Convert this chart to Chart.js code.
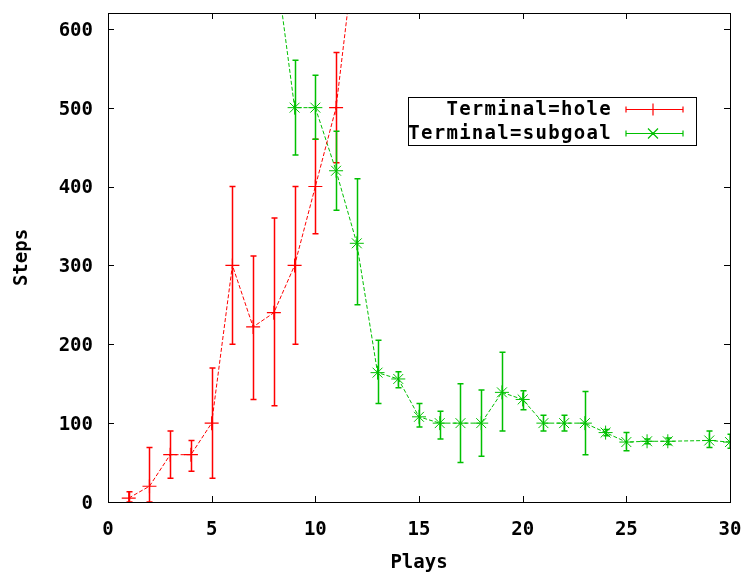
<!DOCTYPE html>
<html>
<head>
<meta charset="utf-8">
<script src="https://cdn.jsdelivr.net/npm/chart.js@4"></script>
<style>
html, body { margin: 0; padding: 0; background: #fff; }
</style>
</head>
<body>
<canvas id="chart" width="751" height="576"></canvas>
<script>
// Terminal=hole
const holePlays = [1, 2, 3, 4, 5, 6, 7, 8, 9, 10, 11, 12];
const holeSteps = [5, 20, 60, 60, 100, 300, 222, 240, 300, 400, 500, 720];
const holeLow   = [0, 0, 30, 39, 30, 200, 130, 122, 200, 340, 430, null];
const holeHigh  = [13, 69, 90, 78, 170, 400, 312, 360, 400, 460, 570, null];

// Terminal=subgoal
const subPlays = [8, 9, 10, 11, 12, 13, 14, 15, 16, 17, 18, 19, 20, 21, 22, 23, 24, 25, 26, 27, 29, 30];
const subSteps = [700, 500, 500, 420, 328, 164, 156, 108, 100, 100, 100, 139, 130, 100, 100, 100, 88, 76, 77, 77, 78, 76];
const subLow   = [null, 440, 460, 370, 250, 125, 145, 95, 80, 50, 58, 90, 117, 90, 90, 60, 84, 65, 74, 73, 69, 68];
const subHigh  = [null, 560, 541, 470, 410, 205, 165, 125, 115, 150, 142, 190, 141, 110, 110, 140, 92, 88, 80, 81, 90, 86];

const xTicks = [0, 5, 10, 15, 20, 25, 30];
const yTicks = [0, 100, 200, 300, 400, 500, 600];

const FONT = { family: "'DejaVu Sans Mono', monospace", size: 19, weight: 'bold' };
const RED = '#ff0000';
const GREEN = '#00c000';

function points(xs, ys, lo, hi) {
    return xs.map((x, i) => ({ x: x, y: ys[i], lo: lo[i], hi: hi[i] }));
}

const errorBars = {
    id: 'errorBars',
    afterDatasetsDraw(chart) {
        const ctx = chart.ctx, xs = chart.scales.x, ys = chart.scales.y, a = chart.chartArea;
        ctx.save();
        ctx.beginPath();
        ctx.rect(a.left, a.top, a.right - a.left, a.bottom - a.top);
        ctx.clip();
        chart.data.datasets.forEach(ds => {
            ctx.strokeStyle = ds.borderColor;
            ctx.lineWidth = 1.5;
            ds.data.forEach(p => {
                if (p.lo == null) return;
                const x = Math.round(xs.getPixelForValue(p.x)) + 0.5;
                const y1 = ys.getPixelForValue(p.lo), y2 = ys.getPixelForValue(p.hi);
                ctx.beginPath();
                ctx.moveTo(x, y1); ctx.lineTo(x, y2);
                ctx.moveTo(x - 3, y1); ctx.lineTo(x + 3, y1);
                ctx.moveTo(x - 3, y2); ctx.lineTo(x + 3, y2);
                ctx.stroke();
            });
        });
        ctx.restore();
    }
};

const frame = {
    id: 'frame',
    afterDraw(chart) {
        const ctx = chart.ctx, a = chart.chartArea, xs = chart.scales.x, ys = chart.scales.y;
        ctx.save();
        ctx.strokeStyle = '#000';
        ctx.lineWidth = 1;
        ctx.strokeRect(Math.round(a.left) + 0.5, Math.round(a.top) + 0.5,
            Math.round(a.right - a.left), Math.round(a.bottom - a.top));
        ctx.beginPath();
        xs.ticks.forEach(t => {
            const x = Math.round(xs.getPixelForValue(t.value)) + 0.5;
            ctx.moveTo(x, a.bottom); ctx.lineTo(x, a.bottom - 6);
            ctx.moveTo(x, a.top); ctx.lineTo(x, a.top + 6);
        });
        ys.ticks.forEach(t => {
            const y = Math.round(ys.getPixelForValue(t.value)) + 0.5;
            ctx.moveTo(a.left, y); ctx.lineTo(a.left + 6, y);
            ctx.moveTo(a.right, y); ctx.lineTo(a.right - 6, y);
        });
        ctx.stroke();

        // legend
        const bx = 408, by = 97, bw = 288, bh = 48;
        ctx.strokeRect(bx + 0.5, by + 0.5, bw, bh);
        ctx.font = `bold ${FONT.size}px ${FONT.family}`;
        ctx.letterSpacing = '1.3px';
        ctx.textAlign = 'right';
        ctx.textBaseline = 'middle';
        chart.data.datasets.forEach((ds, i) => {
            const y = Math.round(by + 12 + i * 24) + 0.5;
            ctx.fillStyle = '#000';
            ctx.fillText(ds.label, 612, y + 1);
            ctx.strokeStyle = ds.borderColor;
            ctx.lineWidth = 1.2;
            ctx.beginPath();
            ctx.moveTo(626, y); ctx.lineTo(683, y);
            ctx.moveTo(626, y - 3); ctx.lineTo(626, y + 3);
            ctx.moveTo(683, y - 3); ctx.lineTo(683, y + 3);
            if (ds.pointStyle === 'cross') {
                ctx.moveTo(653, y - 6); ctx.lineTo(653, y + 6);
            } else {
                ctx.moveTo(648, y - 5); ctx.lineTo(658, y + 5);
                ctx.moveTo(648, y + 5); ctx.lineTo(658, y - 5);
            }
            ctx.stroke();
        });
        ctx.restore();
    }
};

new Chart(document.getElementById('chart').getContext('2d'), {
    type: 'line',
    data: {
        datasets: [{
            label: 'Terminal=hole',
            data: points(holePlays, holeSteps, holeLow, holeHigh),
            borderColor: RED,
            borderWidth: 1,
            borderDash: [4, 2],
            pointStyle: 'cross',
            pointRadius: 7,
            pointBorderWidth: 1.2,
            pointBorderColor: RED,
            fill: false
        }, {
            label: 'Terminal=subgoal',
            data: points(subPlays, subSteps, subLow, subHigh),
            borderColor: GREEN,
            borderWidth: 1,
            borderDash: [4, 2],
            pointStyle: 'star',
            pointRadius: 7,
            pointBorderWidth: 1,
            pointBorderColor: GREEN,
            fill: false
        }]
    },
    options: {
        responsive: false,
        animation: false,
        layout: { padding: { top: 13, right: 21, left: 0, bottom: 0 } },
        plugins: { legend: { display: false }, tooltip: { enabled: false } },
        scales: {
            x: {
                type: 'linear', min: 0, max: 30,
                afterBuildTicks: s => { s.ticks = xTicks.map(v => ({ value: v })); },
                afterFit: s => { s.height = 74; s.paddingLeft = 0; s.paddingRight = 0; },
                grid: { display: false, drawTicks: false },
                border: { display: false },
                ticks: { color: '#000', font: FONT, padding: 17, maxRotation: 0 },
                title: { display: true, text: 'Plays', color: '#000', font: FONT, padding: { top: 0, bottom: 2 } }
            },
            y: {
                type: 'linear', min: 0, max: 620,
                afterBuildTicks: s => { s.ticks = yTicks.map(v => ({ value: v })); },
                afterFit: s => { s.width = 108; s.paddingTop = 0; s.paddingBottom = 0; },
                grid: { display: false, drawTicks: false },
                border: { display: false },
                ticks: { color: '#000', font: FONT, padding: 15, labelOffset: 2 },
                title: { display: true, text: 'Steps', color: '#000', font: FONT, padding: { top: 11, bottom: 0 } }
            }
        }
    },
    plugins: [errorBars, frame]
});
</script>
</body>
</html>
